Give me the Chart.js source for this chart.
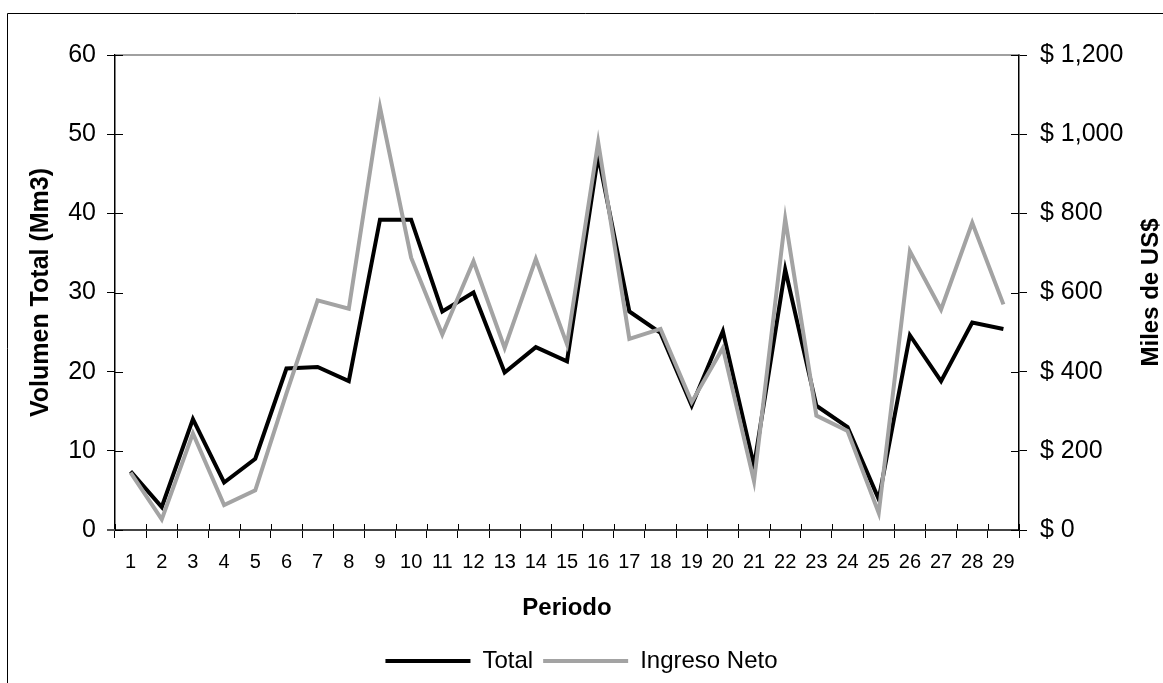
<!DOCTYPE html>
<html>
<head>
<meta charset="utf-8">
<script src="https://cdn.jsdelivr.net/npm/chart.js@4.4.1/dist/chart.umd.min.js"></script>
<style>
  html, body { margin: 0; padding: 0; background: #fff; }
  #wrap { position: relative; width: 1163px; height: 683px; }
</style>
</head>
<body>
<div id="wrap"><canvas id="grafico"></canvas></div>
<script>
// Datos por periodo
const periodos = ['1','2','3','4','5','6','7','8','9','10','11','12','13','14','15',
                  '16','17','18','19','20','21','22','23','24','25','26','27','28','29'];
// Volumen total en Mm3 (eje izquierdo)
const volumenTotal = [7.4, 2.9, 14.0, 6.0, 9.0, 20.4, 20.6, 18.8, 39.2, 39.2, 27.6, 30.0, 19.9, 23.1, 21.3,
                      47.3, 27.6, 24.9, 15.7, 25.1, 8.1, 32.9, 15.7, 13.0, 3.9, 24.6, 18.8, 26.2, 25.4];
// Ingreso neto en miles de US$ (eje derecho)
const ingresoNeto = [145, 27, 244, 63, 100, 345, 580, 559, 1068, 688, 494, 679, 460, 685, 469,
                     980, 483, 508, 323, 460, 123, 786, 289, 250, 43, 704, 557, 776, 570];

const FUENTE = "'Liberation Sans', Arial, sans-serif";
const GRIS = '#a3a3a3';

// marco exterior, línea superior, marcas de eje hacia adentro y título del eje derecho
const decoracion = {
    id: 'decoracion',
    afterDraw(chart) {
        const ctx = chart.ctx;
        const area = chart.chartArea;
        const sx = chart.scales.x, sy = chart.scales.y, sy1 = chart.scales.y1;
        ctx.save();

        ctx.strokeStyle = '#000';
        ctx.lineWidth = 1;
        ctx.beginPath();
        ctx.moveTo(7.5, chart.height);
        ctx.lineTo(7.5, 13.5);
        ctx.lineTo(chart.width, 13.5);
        ctx.stroke();

        ctx.strokeStyle = '#808080';
        ctx.lineWidth = 1.5;
        ctx.beginPath();
        ctx.moveTo(area.left, area.top);
        ctx.lineTo(area.right, area.top);
        ctx.stroke();

        // el eje X se prolonga un poco a la izquierda del eje Y
        ctx.strokeStyle = '#555';
        ctx.lineWidth = 2;
        ctx.beginPath();
        ctx.moveTo(area.left - 8, area.bottom);
        ctx.lineTo(area.left, area.bottom);
        ctx.stroke();

        ctx.strokeStyle = '#000';
        ctx.lineWidth = 1;
        ctx.beginPath();
        for (let i = 0; i <= periodos.length; i++) {
            const px = Math.round(sx.getPixelForValue(i - 0.5)) + 0.5;
            ctx.moveTo(px, area.bottom);
            ctx.lineTo(px, area.bottom - 6);
        }
        sy.ticks.forEach(t => {
            const py = Math.round(sy.getPixelForValue(t.value)) + 0.5;
            ctx.moveTo(area.left, py);
            ctx.lineTo(area.left + 8, py);
        });
        sy1.ticks.forEach(t => {
            const py = Math.round(sy1.getPixelForValue(t.value)) + 0.5;
            ctx.moveTo(area.right, py);
            ctx.lineTo(area.right - 8, py);
        });
        ctx.stroke();

        ctx.translate(1151, (area.top + area.bottom) / 2);
        ctx.rotate(-Math.PI / 2);
        ctx.fillStyle = '#000';
        ctx.font = 'bold 24px ' + FUENTE;
        ctx.textAlign = 'center';
        ctx.textBaseline = 'middle';
        ctx.fillText('Miles de US$', 0, 0);
        ctx.restore();
    }
};

new Chart(document.getElementById('grafico'), {
    type: 'line',
    data: {
        labels: periodos,
        datasets: [
            {
                label: 'Total',
                data: volumenTotal,
                yAxisID: 'y',
                borderColor: '#000',
                backgroundColor: '#000',
                borderWidth: 4,
                pointRadius: 0,
                tension: 0,
                order: 2
            },
            {
                label: 'Ingreso Neto',
                data: ingresoNeto,
                yAxisID: 'y1',
                borderColor: GRIS,
                backgroundColor: GRIS,
                borderWidth: 4,
                pointRadius: 0,
                tension: 0,
                order: 1
            }
        ]
    },
    options: {
        responsive: true,
        maintainAspectRatio: false,
        animation: false,
        devicePixelRatio: 1,
        layout: { padding: { top: 55, left: 0, right: 0, bottom: 0 } },
        plugins: {
            tooltip: { enabled: false },
            legend: {
                position: 'bottom',
                labels: {
                    usePointStyle: true,
                    pointStyle: 'line',
                    pointStyleWidth: 85,
                    color: '#000',
                    font: { family: FUENTE, size: 24 },
                    padding: 10,
                    sort: (a, b) => a.datasetIndex - b.datasetIndex
                }
            }
        },
        scales: {
            x: {
                offset: true,
                grid: { offset: true, drawOnChartArea: false, tickLength: 8, color: '#000' },
                border: { display: true, color: '#444', width: 2 },
                ticks: {
                    color: '#000',
                    font: { family: FUENTE, size: 20 },
                    autoSkip: false,
                    maxRotation: 0,
                    padding: 12
                },
                title: {
                    display: true,
                    text: 'Periodo',
                    color: '#000',
                    font: { family: FUENTE, size: 24, weight: 'bold' },
                    padding: { top: 0, bottom: 16 }
                },
                afterFit(scale) { scale.height = 109; }
            },
            y: {
                position: 'left',
                min: 0,
                max: 60,
                ticks: {
                    stepSize: 10,
                    color: '#000',
                    font: { family: FUENTE, size: 25 },
                    padding: 11
                },
                grid: { drawOnChartArea: false, tickLength: 8, color: '#000' },
                border: { display: true, color: '#000', width: 1.5 },
                title: {
                    display: true,
                    text: 'Volumen Total (Mm3)',
                    color: '#000',
                    font: { family: FUENTE, size: 25, weight: 'bold' },
                    padding: { top: 26, bottom: 0 }
                },
                afterFit(scale) { scale.width = 115; }
            },
            y1: {
                position: 'right',
                min: 0,
                max: 1200,
                ticks: {
                    stepSize: 200,
                    color: '#000',
                    font: { family: FUENTE, size: 25 },
                    padding: 13,
                    callback: v => '$ ' + v.toLocaleString('en-US')
                },
                grid: { drawOnChartArea: false, tickLength: 8, color: '#000' },
                border: { display: true, color: '#000', width: 1.5 },
                afterFit(scale) { scale.width = 144; }
            }
        }
    },
    plugins: [decoracion]
});
</script>
</body>
</html>
